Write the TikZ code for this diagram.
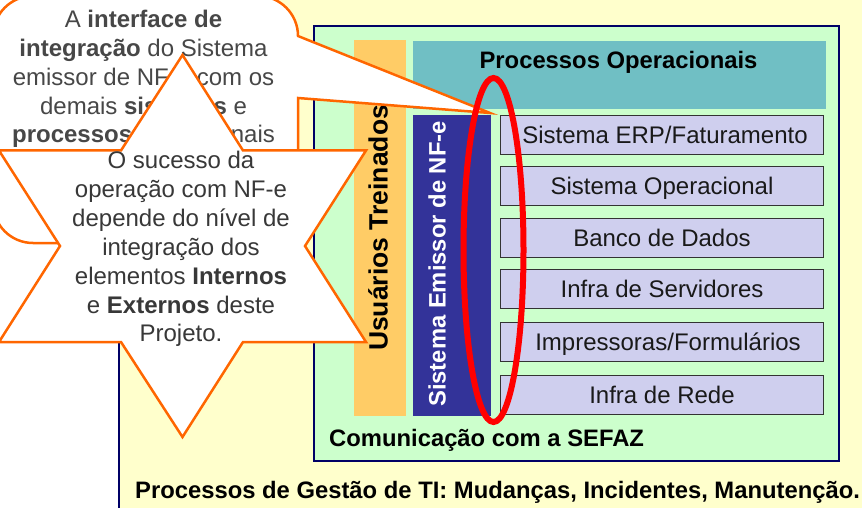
\documentclass[tikz,border=0pt]{standalone}
\usepackage{fontspec}
\setmainfont{Liberation Sans}
\definecolor{bgyellow}{HTML}{FFFFCC}
\definecolor{bggreen}{HTML}{CCFFCC}
\definecolor{navy}{HTML}{000066}
\definecolor{orangefill}{HTML}{FFCC66}
\definecolor{tealfill}{HTML}{70BFC4}
\definecolor{bluefill}{HTML}{333399}
\definecolor{boxfill}{HTML}{CFCFEE}
\definecolor{calloutline}{HTML}{FF6600}
\tikzset{
  x=1pt,y=-1pt,
  band/.style={draw=none,minimum width=0pt,inner sep=0pt,anchor=north west},
  layerbox/.style={draw=black!80,line width=1pt,fill=boxfill,anchor=north west,inner sep=0pt,
     font=\fontsize{24}{24}\selectfont,text=black!90,text height=17pt,text depth=0pt},
  boldlabel/.style={font=\fontsize{23.8}{24}\selectfont\bfseries,inner sep=0pt},
  callouttext/.style={align=center,inner sep=0pt,text=black!72,font=\fontsize{24}{28.8}\selectfont},
  startext/.style={align=center,inner sep=0pt,text=black!78,font=\fontsize{24}{28.9}\selectfont},
  outline/.style={draw=calloutline,line width=2.5pt,fill=white,miter limit=20},
}
\begin{document}
\begin{tikzpicture}
\clip (0,0) rectangle (862,508);
\node[band,fill=bgyellow,draw=navy,line width=2pt,minimum width=800pt,minimum height=560pt] (bg) at (118,-10) {};
\node[band,fill=bggreen,draw=navy,line width=2pt,minimum width=525pt,minimum height=435pt] (green) at (313,25) {};
\node[band,fill=orangefill,minimum width=52pt,minimum height=376pt] (users) at (354,40) {};
\node[band,fill=tealfill,minimum width=413pt,minimum height=68pt] (procs) at (413,41) {};
\node[band,fill=bluefill,minimum width=78pt,minimum height=301pt] (emissor) at (413,115) {};
\node[boldlabel,rotate=90,font=\fontsize{26.5}{26.5}\selectfont\bfseries] (usersT) at (378,228) {Usuários Treinados};
\node[boldlabel,rotate=90,text=white,font=\fontsize{23.8}{23.8}\selectfont\bfseries] (emissorT) at (437,264) {Sistema Emissor de NF-e};
\node[boldlabel,anchor=base] (procsT) at (618.5,69) {Processos Operacionais};
\node[layerbox,minimum width=323pt,minimum height=39pt] (b1) at (500,115) {\hspace*{6pt}Sistema ERP/Faturamento};
\node[layerbox,minimum width=323pt,minimum height=39pt] (b2) at (500,166) {Sistema Operacional};
\node[layerbox,minimum width=323pt,minimum height=39pt] (b3) at (500,218) {Banco de Dados};
\node[layerbox,minimum width=323pt,minimum height=39pt] (b4) at (500,269) {Infra de Servidores};
\node[layerbox,minimum width=323pt,minimum height=39pt] (b5) at (500,322) {\hspace*{12pt}Impressoras/Formulários};
\node[layerbox,minimum width=323pt,minimum height=39pt] (b6) at (500,375) {Infra de Rede};
\node[boldlabel,anchor=base west] (sefaz) at (329,446) {Comunicação com a SEFAZ};
\node[boldlabel,anchor=base west] (gestao) at (135,498) {Processos de Gestão de TI: Mudanças, Incidentes, Manutenção.};
% callout
\draw[outline] (298,36) -- (490,113) -- (298,98) -- (298,203) arc[start angle=0,end angle=90,radius=40]
  -- (33,243) arc[start angle=90,end angle=180,radius=40] -- (-7,36) arc[start angle=180,end angle=270,radius=40]
  -- (258,-4) arc[start angle=270,end angle=360,radius=40] -- cycle;
\node[callouttext] (calloutT) at (143.5,79) {A \textbf{interface de}\\\textbf{integração} do Sistema\\emissor de NF-e com os\\demais \textbf{sistemas} e\\\textbf{processos} operacionais};
% red ellipse
\draw[red,line width=6pt] (493.5,250) ellipse[x radius=30,y radius=172];
% star
\draw[outline] (182.5,55) -- (243,150.5) -- (366,150.5) -- (305,246) -- (366,342) -- (243,342) -- (182.5,437)
  -- (121,342) -- (-1,342) -- (60,246) -- (-1,150.5) -- (121,150.5) -- cycle;
\node[startext] (starT) at (181,249) {O sucesso da\\operação com NF-e\\depende do nível de\\integração dos\\elementos \textbf{Internos}\\e \textbf{Externos} deste\\Projeto.};
\end{tikzpicture}
\end{document}
